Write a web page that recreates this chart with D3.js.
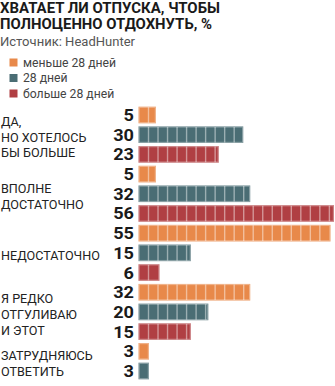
<!DOCTYPE html>
<html>
<head>
<meta charset="utf-8">
<script src="https://cdn.jsdelivr.net/npm/d3@7"></script>
<style>
  html, body { margin: 0; padding: 0; background: #fff; }
  svg { display: block; }
  text { font-family: Roboto, "Liberation Sans", sans-serif; }
</style>
</head>
<body>
<svg id="chart" width="335" height="386"></svg>
<script>
// Answer groups (label lines) and the share of each vacation length, %
const categories = [
  ["ДА,", "НО ХОТЕЛОСЬ", "БЫ БОЛЬШЕ"],
  ["ВПОЛНЕ", "ДОСТАТОЧНО"],
  ["НЕДОСТАТОЧНО"],
  ["Я РЕДКО", "ОТГУЛИВАЮ", "И ЭТОТ"],
  ["ЗАТРУДНЯЮСЬ", "ОТВЕТИТЬ"]
];
const seriesNames = ["меньше 28 дней", "28 дней", "больше 28 дней"];
const lessThan28 = [5, 5, 55, 32, 3];
const exactly28  = [30, 32, 15, 20, 3];
const moreThan28 = [23, 56, 6, 15, null];
const seriesColors = ["#e8894a", "#4a6d74", "#b03f43"];

const titleLines = ["ХВАТАЕТ ЛИ ОТПУСКА, ЧТОБЫ", "ПОЛНОЦЕННО ОТДОХНУТЬ, %"];
const sourceText = "Источник: HeadHunter";

// Flatten into one row per drawn bar
const seriesValues = [lessThan28, exactly28, moreThan28];
const rows = [];
const groupRows = [];
categories.forEach((lines, g) => {
  const idx = [];
  seriesValues.forEach((vals, s) => {
    if (vals[g] != null) { idx.push(rows.length); rows.push({ g, s, value: vals[g] }); }
  });
  groupRows.push(idx);
});

const svg = d3.select("#chart");

// Title
svg.append("g").selectAll("text").data(titleLines).join("text")
  .attr("x", 0)
  .attr("y", (d, i) => 13 + i * 15.5)
  .attr("font-size", 14.5)
  .attr("font-weight", 700)
  .attr("fill", "#1a1a1a")
  .attr("textLength", (d, i) => [220, 212][i])
  .attr("lengthAdjust", "spacingAndGlyphs")
  .text(d => d);

svg.append("text")
  .attr("x", 0).attr("y", 45.5)
  .attr("font-size", 12.5)
  .attr("fill", "#555")
  .attr("textLength", 135)
  .attr("lengthAdjust", "spacingAndGlyphs")
  .text(sourceText);

// Legend
const legend = svg.append("g").selectAll("g").data(seriesNames).join("g")
  .attr("transform", (d, i) => `translate(9.5, ${58.5 + i * 15.5})`);
legend.append("rect").attr("width", 8).attr("height", 8)
  .attr("fill", (d, i) => seriesColors[i]);
legend.append("text")
  .attr("x", 13.5).attr("y", 8.3)
  .attr("font-size", 12.2)
  .attr("fill", "#444")
  .text(d => d);

// Scales
const x = d3.scaleLinear().domain([0, 56]).range([138.5, 334]);
const y = d3.scaleBand().domain(d3.range(rows.length))
  .range([105.15, 380.85]).paddingInner(0.157).paddingOuter(0.0785);

// Bars with light vertical segment dividers
const bars = svg.append("g").selectAll("g").data(rows).join("g")
  .attr("transform", (d, i) => `translate(${x(0)}, ${y(i)})`);

bars.append("rect")
  .attr("width", d => x(d.value) - x(0))
  .attr("height", y.bandwidth())
  .attr("fill", d => seriesColors[d.s]);

bars.append("rect")
  .attr("x", 0.6).attr("y", 0.6)
  .attr("width", d => Math.max(0, x(d.value) - x(0) - 1.2))
  .attr("height", y.bandwidth() - 1.2)
  .attr("fill", "none")
  .attr("stroke", "#fff")
  .attr("stroke-opacity", 0.35)
  .attr("stroke-width", 1.2);

const segStep = 9.52;
bars.each(function (d) {
  const w = x(d.value) - x(0);
  d3.select(this).selectAll("line.div")
    .data(d3.range(10, w - 2, segStep))
    .join("line").attr("class", "div")
    .attr("x1", v => v).attr("x2", v => v)
    .attr("y1", 0.5).attr("y2", y.bandwidth() - 0.5)
    .attr("stroke", "#fff")
    .attr("stroke-opacity", 0.45)
    .attr("stroke-width", 1.4);
});

// Value labels
svg.append("g").selectAll("text").data(rows).join("text")
  .attr("x", 134)
  .attr("y", (d, i) => y(i) + y.bandwidth() / 2 + 6)
  .attr("text-anchor", "end")
  .attr("font-size", 16.6)
  .attr("font-weight", 700)
  .attr("fill", "#1a1a1a")
  .attr("textLength", d => String(d.value).length * 10.4)
  .attr("lengthAdjust", "spacingAndGlyphs")
  .text(d => d.value);

// Category labels, centred on their group of bars
const lineGap = 15.8;
const catG = svg.append("g").selectAll("g").data(categories).join("g")
  .attr("transform", (lines, g) => {
    const idx = groupRows[g];
    const top = y(idx[0]);
    const bottom = y(idx[idx.length - 1]) + y.bandwidth();
    return `translate(1, ${(top + bottom) / 2 + 2.5})`;
  });
catG.selectAll("text").data(lines => lines.map((t, i) => ({ t, i, n: lines.length }))).join("text")
  .attr("x", 0)
  .attr("y", d => (d.i - (d.n - 1) / 2) * lineGap + 4.5)
  .attr("font-size", 12.6)
  .attr("fill", "#222")
  .text(d => d.t);
</script>
</body>
</html>
